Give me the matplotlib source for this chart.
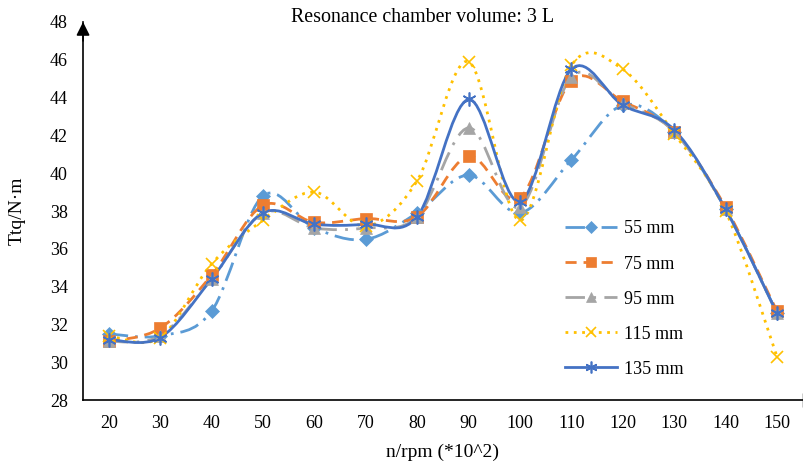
import matplotlib.pyplot as plt
from matplotlib.path import Path
from matplotlib.patches import PathPatch
import numpy as np

rpm = [20, 30, 40, 50, 60, 70, 80, 90, 100, 110, 120, 130, 140, 150]
t55 = [31.5, 31.4, 32.7, 38.8, 37.1, 36.5, 37.9, 39.9, 37.9, 40.7, 43.6, 42.2, 38.1, 32.6]
t75 = [31.1, 31.8, 34.6, 38.3, 37.4, 37.6, 37.7, 40.9, 38.7, 44.9, 43.8, 42.2, 38.2, 32.7]
t95 = [31.1, 31.4, 34.4, 37.9, 37.1, 37.1, 37.7, 42.4, 38.2, 45.1, 43.7, 42.2, 38.1, 32.6]
t115 = [31.4, 31.3, 35.2, 37.5, 39.0, 37.2, 39.6, 45.9, 37.5, 45.7, 45.5, 42.1, 38.0, 30.3]
t135 = [31.2, 31.3, 34.4, 37.9, 37.3, 37.3, 37.7, 43.9, 38.5, 45.5, 43.6, 42.3, 38.1, 32.6]
labels = ["55 mm", "75 mm", "95 mm", "115 mm", "135 mm"]

plt.rcParams['font.family'] = ['Liberation Serif', 'DejaVu Serif']

fig = plt.figure(figsize=(8.04, 4.63), dpi=100)
ax = fig.add_axes([0.1033, 0.136, 0.895, 0.8165])


def smooth(ax, x, y, **kw):
    # excel-like smoothed line as cubic bezier path
    x = np.asarray(x, float)
    y = np.asarray(y, float)
    pts = np.column_stack([x, y])
    n = len(pts)
    verts = [pts[0]]
    codes = [Path.MOVETO]
    for i in range(n - 1):
        p0 = pts[i - 1] if i > 0 else pts[i]
        p3 = pts[i + 2] if i + 2 < n else pts[i + 1]
        c1 = pts[i] + (pts[i + 1] - p0) / 6
        c2 = pts[i + 1] - (p3 - pts[i]) / 6
        verts += [c1, c2, pts[i + 1]]
        codes += [Path.CURVE4] * 3
    ax.add_patch(PathPatch(Path(verts, codes), fill=False, **kw))


xs = np.arange(len(rpm))
series = [
    (t55, "#5B9BD5", (0, (7, 2.5, 1, 2.5)), "D", 7.5),
    (t75, "#ED7D31", (0, (4, 2.5)), "s", 9),
    (t95, "#A5A5A5", (0, (7, 3, 1, 3)), "^", 9),
    (t115, "#FFC000", (0, (1, 2)), "x", 9),
    (t135, "#4472C4", "-", (6, 2, 0), 10),
]
for (ys, c, ls, m, ms), lab in zip(series, labels):
    mew = 1.2 if m in ("x", (6, 2, 0)) else 0.5
    smooth(ax, xs, ys, edgecolor=c, linestyle=ls, linewidth=2, capstyle="butt")
    ax.plot(xs, ys, linestyle="none", marker=m, markersize=ms, color=c,
            markeredgewidth=mew)
    ax.plot([], [], color=c, linestyle=ls, linewidth=2, marker=m,
            markersize=ms * 0.85, markeredgewidth=mew, label=lab)

ax.set_xlim(-0.5, 13.5)
ax.set_ylim(28, 48)
ax.set_xticks(xs)
ax.set_xticklabels([str(r) for r in rpm])
ax.set_yticks(range(28, 49, 2))
ax.tick_params(length=0, labelsize=13, pad=11)
ax.tick_params(axis="y", pad=11)
for s in ["top", "right"]:
    ax.spines[s].set_visible(False)
ax.spines["left"].set_linewidth(1.2)
ax.spines["bottom"].set_linewidth(1.2)
ax.annotate("", xy=(0, 1.0), xytext=(0, 0.95), xycoords="axes fraction",
            arrowprops=dict(arrowstyle="-|>,head_width=0.4,head_length=0.8",
                            color="black", lw=1.2, shrinkA=0, shrinkB=0))
ax.plot([1], [0], marker="|", color="black", markersize=10,
        transform=ax.transAxes, clip_on=False)

ax.text(0.5 * (292 + 553) / 804, 1 - 17 / 463, "Resonance chamber volume: 3 L",
        transform=fig.transFigure, ha="center", va="center", fontsize=14.4)
ax.set_xlabel("n/rpm (*10^2)", fontsize=14, labelpad=8)
ax.set_ylabel("Ttq/N·m", fontsize=14, labelpad=6)
ax.yaxis.set_label_coords(-0.08, 0.5)

ax.legend(loc="upper left", bbox_to_anchor=(0.647, 0.518), frameon=False,
          fontsize=13, handlelength=2.9, labelspacing=1.0, handletextpad=0.35)

fig.savefig("out.png", dpi=100)
